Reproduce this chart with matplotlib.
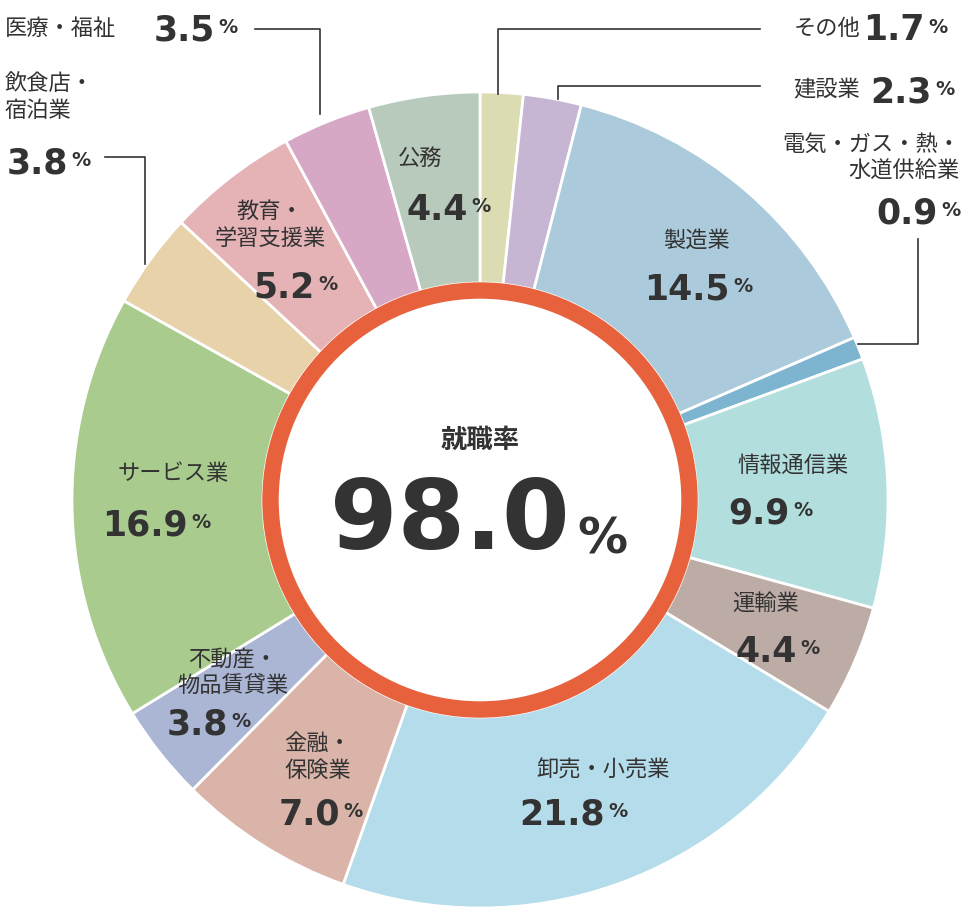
import matplotlib.pyplot as plt
from matplotlib.patches import Wedge

# データ（12時の位置から時計回り）
labels = ["その他", "建設業", "製造業", "電気・ガス・熱・\n水道供給業", "情報通信業", "運輸業",
          "卸売・小売業", "金融・\n保険業", "不動産・\n物品賃貸業", "サービス業", "飲食店・\n宿泊業",
          "教育・\n学習支援業", "医療・福祉", "公務"]
values = [1.7, 2.3, 14.5, 0.9, 9.9, 4.4, 21.8, 7.0, 3.8, 16.9, 3.8, 5.2, 3.5, 4.4]
colors = ["#dcdcb2", "#c7b5d4", "#abcbdc", "#7db5d0", "#b3dede", "#bdaca6", "#b5dcea",
          "#dab4a8", "#abb5d4", "#a9cc8e", "#e7d2aa", "#e5b2b6", "#d7a8c5", "#b8cabb"]
rate = 98.0

H = 912
dark = "#333333"
jp = ["Noto Sans CJK JP", "DejaVu Sans"]

fig = plt.figure(figsize=(9.62, 9.12), dpi=100)
ax = fig.add_axes([0, 0, 1, 1])
ax.set_xlim(0, 962)
ax.set_ylim(0, H)
ax.axis("off")

cx, cy = 480, H - 501
ax.pie(values, colors=colors, startangle=90, counterclock=False, center=(cx, cy), radius=408,
       wedgeprops=dict(width=191, edgecolor="white", linewidth=2))
ax.add_patch(Wedge((cx, cy), 217, 0, 360, width=15, color="#e8613d", zorder=5))
ax.set_xlim(0, 962)
ax.set_ylim(0, H)
ax.set_aspect("equal")


def val(x, y, v, size=25, ha="right"):
    # 数値(太字)と小さい%を並べる
    if ha == "right":
        ax.text(x, H - y, f"{v:.1f}", fontsize=size, fontweight="bold", color=dark,
                ha="right", va="center", family="DejaVu Sans", zorder=10)
        ax.text(x + 3, H - y + 3, "%", fontsize=size * 0.55, fontweight="bold", color=dark,
                ha="left", va="center", family="DejaVu Sans", zorder=10)


def name(x, y, s, ha="center"):
    ax.text(x, H - y, s, fontsize=16, color=dark, ha=ha, va="center", family=jp,
            linespacing=1.2, zorder=10)


# 内側ラベル: (名前x, 名前y, 数値の右端x, 数値y)
inner = {2: (697, 240, 730, 290), 4: (793, 465, 790, 513), 5: (766, 603, 797, 652),
         6: (603, 770, 605, 815), 7: (318, 757, 340, 815), 8: (233, 672, 228, 725),
         9: (173, 473, 188, 525), 11: (270, 225, 315, 287), 13: (420, 158, 468, 210)}
for i, (nx, ny, vx, vy) in inner.items():
    name(nx, ny, labels[i])
    val(vx, vy, values[i])

# 外側ラベル
name(5, 28, labels[12], ha="left")
val(215, 30, values[12])
name(5, 97, labels[10], ha="left")
val(68, 163, values[10])
name(860, 28, labels[0], ha="right")
val(925, 30, values[0])
name(860, 90, labels[1], ha="right")
val(932, 92, values[1])
name(960, 158, labels[3], ha="right")
val(938, 213, values[3])

# 引き出し線
lines = [([255, 320, 320], [30, 30, 115]), ([105, 145, 145], [158, 158, 265]),
         ([760, 498, 498], [30, 30, 95]), ([760, 558, 558], [87, 87, 100]),
         ([918, 918, 858], [240, 345, 345])]
for xs, ys in lines:
    ax.plot(xs, [H - y for y in ys], color=dark, linewidth=1.2, zorder=10)

# 中央
ax.text(cx, H - 440, "就職率", fontsize=19, fontweight="bold", color=dark, ha="center",
        va="center", family=jp, zorder=10)
ax.text(cx + 90, H - 522, f"{rate:.1f}", fontsize=70, fontweight="bold", color=dark,
        ha="right", va="center", family="DejaVu Sans", zorder=10)
ax.text(cx + 97, H - 540, "%", fontsize=36, fontweight="bold", color=dark,
        ha="left", va="center", family="DejaVu Sans", zorder=10)

fig.savefig("out.png", dpi=100)
